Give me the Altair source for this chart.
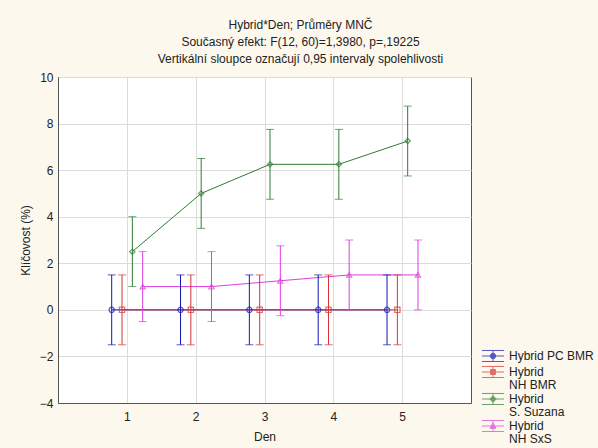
import altair as alt
import pandas as pd

# ---- data ----
days = [1, 2, 3, 4, 5]
series_names = ["Hybrid PC BMR", "Hybrid|NH BMR", "Hybrid|S. Suzana", "Hybrid|NH SxS"]
mean_pc_bmr = [0.0, 0.0, 0.0, 0.0, 0.0]
mean_nh_bmr = [0.0, 0.0, 0.0, 0.0, 0.0]
mean_s_suzana = [2.5, 5.0, 6.25, 6.25, 7.25]
mean_nh_sxs = [1.0, 1.0, 1.25, 1.5, 1.5]
ci_pc_bmr = [1.5, 1.5, 1.5, 1.5, 1.5]
ci_nh_bmr = [1.5, 1.5, 1.5, 1.5, 1.5]
ci_s_suzana = [1.5, 1.5, 1.5, 1.5, 1.5]
ci_nh_sxs = [1.5, 1.5, 1.5, 1.5, 1.5]
y_ticks = [-4, -2, 0, 2, 4, 6, 8, 10]

# ---- styling ----
colors = ["#1414b4", "#d83232", "#2e7d32", "#de3cde"]
markers = ["circle", "square", "diamond", "triangle-up"]
offsets = [-0.22, -0.07, 0.08, 0.23]
bar = "M-1.7,-0.85H1.7M-1.7,0H1.7M-1.7,0.85H1.7M0,-0.85V0.85"
glyphs = [
    bar + "M0.42,0A0.42,0.42,0,1,1,-0.42,0A0.42,0.42,0,1,1,0.42,0Z",
    bar + "M-0.38,-0.38H0.38V0.38H-0.38Z",
    bar + "M0,-0.5L0.5,0L0,0.5L-0.5,0Z",
    bar + "M0,-0.48L0.46,0.36H-0.46Z",
]

means = [mean_pc_bmr, mean_nh_bmr, mean_s_suzana, mean_nh_sxs]
cis = [ci_pc_bmr, ci_nh_bmr, ci_s_suzana, ci_nh_sxs]
rows = []
for i, name in enumerate(series_names):
    for j, d in enumerate(days):
        m = means[i][j]
        c = cis[i][j]
        rows.append({
            "series": name, "order": i, "day": d,
            "xpos": d + offsets[i], "mean": m, "lo": m - c, "hi": m + c,
            "marker": markers[i],
        })
df = pd.DataFrame(rows)

FONT = "Liberation Sans"

x_axis = alt.Axis(values=days, title="Den", tickSize=0, labelPadding=8,
                  titlePadding=9, grid=True, format="d")
y_axis = alt.Axis(values=y_ticks, title="Klíčovost (%)", tickSize=0,
                  labelPadding=5, titlePadding=7, grid=True)
x_scale = alt.Scale(domain=[0, 6], nice=False, zero=False)
y_scale = alt.Scale(domain=[-4, 10], nice=False, zero=False)

leg = alt.Legend(
    orient="none", legendX=428, legendY=272, title=None,
    labelExpr="split(datum.label, '|')",
    symbolSize=169, symbolStrokeWidth=1, symbolType="circle",
    labelFont=FONT, labelFontSize=12, labelColor="#222222",
    labelBaseline="middle", labelOffset=9, rowPadding=0, symbolOffset=0,
)

color = alt.Color("series:N", scale=alt.Scale(domain=series_names, range=colors), legend=leg)
X = alt.X("xpos:Q", scale=x_scale, axis=x_axis)

base = alt.Chart(df)

lines = base.mark_line(strokeWidth=1).encode(
    x=X, y=alt.Y("mean:Q", scale=y_scale, axis=y_axis), color=color,
    order="day:Q",
)
rules = base.mark_rule(strokeWidth=1).encode(
    x=X, y=alt.Y("lo:Q", scale=y_scale, axis=y_axis), y2="hi:Q", color=color,
)
cap_lo = base.mark_tick(orient="horizontal", size=8, thickness=1).encode(
    x=X, y=alt.Y("lo:Q", scale=y_scale, axis=y_axis), color=color,
)
cap_hi = base.mark_tick(orient="horizontal", size=8, thickness=1).encode(
    x=X, y=alt.Y("hi:Q", scale=y_scale, axis=y_axis), color=color,
)
points = base.mark_point(filled=False, size=28, strokeWidth=1.2).encode(
    x=X, y=alt.Y("mean:Q", scale=y_scale, axis=y_axis), color=color,
    shape=alt.Shape("marker:N", scale=None),
)
legend_layer = base.mark_point(filled=False, size=0, strokeWidth=1).encode(
    x=X, y=alt.Y("mean:Q", scale=y_scale, axis=y_axis), color=color,
    shape=alt.Shape("series:N", scale=alt.Scale(domain=series_names, range=glyphs), legend=leg),
)

chart = alt.layer(lines, rules, cap_lo, cap_hi, points, legend_layer).properties(
    width=413, height=326,
    autosize=alt.AutoSizeParams(type="none"),
    padding={"left": 58, "top": 77, "right": 127, "bottom": 45},
    background="#fcf8ee",
    title=alt.TitleParams(
        text=["Hybrid*Den; Průměry MNČ",
              "Současný efekt: F(12, 60)=1,3980, p=,19225",
              "Vertikální sloupce označují 0,95 intervaly spolehlivosti"],
        font=FONT, fontSize=12, fontWeight="normal", color="#222222",
        lineHeight=17, anchor="middle", dx=36, offset=5,
    ),
).configure(
    style={"guide-label": {"lineHeight": 13}},
).configure_view(
    fill="white", stroke="#555555", strokeWidth=1,
).configure_axis(
    labelFont=FONT, titleFont=FONT, labelFontSize=12, titleFontSize=12,
    titleFontWeight="normal", labelColor="#222222", titleColor="#222222",
    gridColor="#dcdcdc", domainColor="#555555", domain=True,
)

chart.save("out.html", embed_options={"renderer": "svg", "actions": False})
